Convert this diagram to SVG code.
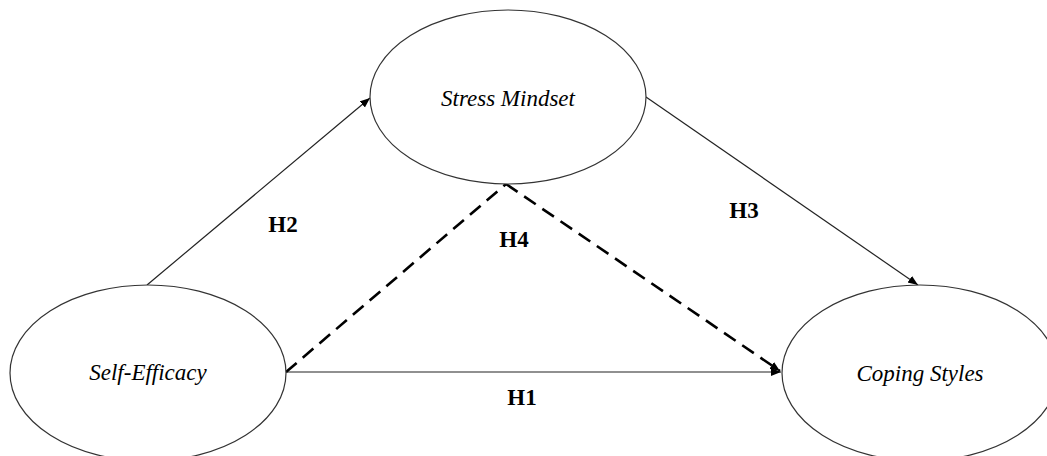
<svg xmlns="http://www.w3.org/2000/svg" width="1047" height="456" viewBox="0 0 1047 456">
<style>
.node ellipse{fill:#fff;stroke:#333;stroke-width:1.2}
.ntext{font-family:"Liberation Serif","Times New Roman",serif;font-style:italic;font-size:23px;fill:#000;text-anchor:middle}
.lbl{font-family:"Liberation Serif","Times New Roman",serif;font-weight:bold;font-size:23px;fill:#000;text-anchor:middle}
.solid{stroke:#222;stroke-width:1.2;fill:none}
.dash{stroke:#000;stroke-width:2.6;fill:none;stroke-dasharray:14 8}
</style>
<defs>
<marker id="arr" markerUnits="userSpaceOnUse" markerWidth="12" markerHeight="10" refX="10" refY="4" orient="auto">
<path d="M0,0 L10,4 L0,8 Z" fill="#000"/>
</marker>
</defs>
<g id="connectors">
<line class="solid" x1="147" y1="285" x2="370" y2="98" marker-end="url(#arr)"/>
<line class="solid" x1="646" y1="97" x2="918" y2="285" marker-end="url(#arr)"/>
<line class="solid" x1="286" y1="372" x2="781" y2="372" marker-end="url(#arr)"/>
<line class="dash" x1="286" y1="372" x2="506" y2="184"/>
<line class="dash" x1="506" y1="184" x2="780" y2="371" marker-end="url(#arr)"/>
</g>
<g id="self-efficacy" class="node">
<ellipse cx="148" cy="373" rx="138" ry="88"/>
<text class="ntext" x="148" y="380">Self-Efficacy</text>
</g>
<g id="stress-mindset" class="node">
<ellipse cx="508" cy="97" rx="138" ry="87"/>
<text class="ntext" x="508" y="106">Stress Mindset</text>
</g>
<g id="coping-styles" class="node">
<ellipse cx="920" cy="373" rx="138" ry="88"/>
<text class="ntext" x="920" y="381">Coping Styles</text>
</g>
<g id="labels">
<text class="lbl" x="283" y="232">H2</text>
<text class="lbl" x="514" y="247">H4</text>
<text class="lbl" x="744" y="218">H3</text>
<text class="lbl" x="522" y="405">H1</text>
</g>
</svg>
